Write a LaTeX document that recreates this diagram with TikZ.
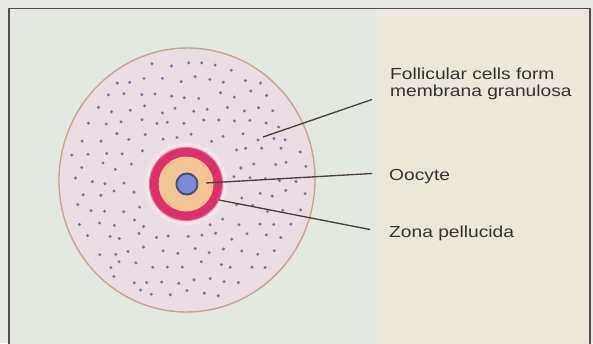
\documentclass[tikz,border=0pt]{standalone}
\usepackage{fontspec}
\newfontfamily\labelfont[FakeStretch=1.2]{Liberation Sans}
\definecolor{pagegray}{HTML}{E7E7E4}
\definecolor{framegray}{HTML}{4F4F4D}
\definecolor{panelgreen}{HTML}{E3E9E1}
\definecolor{panelbeige}{HTML}{ECE7D9}
\definecolor{follfill}{HTML}{EBDDE4}
\definecolor{follrim}{HTML}{C8A58E}
\definecolor{cellblue}{HTML}{6E7A9E}
\definecolor{halo}{HTML}{F3E6EC}
\definecolor{zonared}{HTML}{DD2F6B}
\definecolor{zonaedge}{HTML}{EC77A0}
\definecolor{ooplasm}{HTML}{F2C592}
\definecolor{nucfill}{HTML}{7F88D8}
\definecolor{nucrim}{HTML}{3E5478}
\definecolor{leader}{HTML}{4E4140}
\definecolor{labeltext}{HTML}{333333}
\tikzset{
  leaderline/.style={draw=leader, line width=1.35pt},
  celldot/.style={fill=cellblue},
  labeltxt/.style={anchor=base west, inner sep=0pt, align=left,
    font=\labelfont\fontsize{16}{17.4}\selectfont, text=labeltext},
}
\begin{document}
\begin{tikzpicture}[x=1pt, y=-1pt]
  \useasboundingbox (0,0) rectangle (593,343);
  \clip (0,0) rectangle (593,343);
  % page and framed panel
  \fill[pagegray] (0,0) rectangle (593,343);
  \fill[panelgreen] (9,8.5) rectangle (379,360);
  \fill[panelbeige] (379,8.5) rectangle (590,360);
  \draw[framegray, line width=1.5pt] (9,360) -- (9,8.5) -- (590,8.5) -- (590,360);

  % follicle body
  \begin{scope}[shift={(187,180)}, rotate=-4]
    \draw[fill=follfill, draw=follrim, line width=1.4pt]
      (0,0) ellipse [x radius=128, y radius=132];
  \end{scope}
  \fill[halo] (186,184) circle [radius=41];

  % scattered follicular cells
  \pgfmathsetseed{5}
  \foreach \i in {0,...,19} {
    \foreach \j in {0,...,18} {
      \pgfmathsetmacro{\px}{44 + \j*15.8 + mod(\i,2)*7.9 + 4*rand}
      \pgfmathsetmacro{\py}{38 + \i*14.2 + 4*rand}
      \pgfmathtruncatemacro{\ok}{and(((\px-187)/120)^2 + ((\py-180)/124)^2 < 1,
                                     ((\px-186)/10)^2 + ((\py-184)/10)^2 > 22)}
      \ifnum\ok=1
        \fill[celldot] (\px,\py) circle [radius=1.65];
      \fi
    }
  }

  % oocyte with zona pellucida and nucleus
  \fill[zonaedge] (186,184) circle [radius=37.2];
  \fill[zonared] (186,184) circle [radius=36];
  \fill[ooplasm] (186,184) circle [radius=27.5];
  \draw[fill=nucfill, draw=nucrim, line width=2pt] (187,184) circle [radius=10.5];

  % labels
  \node[labeltxt] (fol-lbl) at (390,96.8) {Follicular cells form\\membrana granulosa};
  \node[labeltxt] (oo-lbl) at (389,180.7) {Oocyte};
  \node[labeltxt] (zp-lbl) at (389,237.3) {Zona pellucida};

  % leader lines
  \coordinate (fol-tip) at (263,137);
  \coordinate (fol-end) at (372,99.5);
  \coordinate (oo-tip) at (206,183);
  \coordinate (oo-end) at (372,173.5);
  \coordinate (zp-tip) at (219,200);
  \coordinate (zp-end) at (370,229.5);
  \draw[leaderline] (fol-tip) -- (fol-end);
  \draw[leaderline] (oo-tip) -- (oo-end);
  \draw[leaderline] (zp-tip) -- (zp-end);
\end{tikzpicture}
\end{document}
